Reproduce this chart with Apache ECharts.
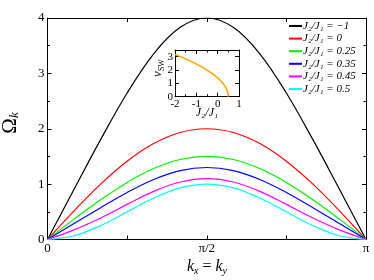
<!DOCTYPE html>
<html><head><meta charset="utf-8">
<script src="https://cdn.jsdelivr.net/npm/echarts@6/dist/echarts.min.js"></script>
<style>html,body{margin:0;padding:0;background:#fff}#c{width:374px;height:280px}</style>
</head><body><div id="c"></div>
<script>
// k in units of pi: 0, 1/12, ..., 1
var kValues = [0, 1/12, 2/12, 3/12, 4/12, 5/12, 6/12, 7/12, 8/12, 9/12, 10/12, 11/12, 1];
var seriesNames = ['J₂/J₁ = −1', 'J₂/J₁ = 0', 'J₂/J₁ = 0.25', 'J₂/J₁ = 0.35', 'J₂/J₁ = 0.45', 'J₂/J₁ = 0.5'];
var omegaM1  = [0, 0.906, 1.803, 2.646, 3.354, 3.831, 4.0, 3.831, 3.354, 2.646, 1.803, 0.906, 0];
var omega0   = [0, 0.518, 1.0, 1.414, 1.732, 1.932, 2.0, 1.932, 1.732, 1.414, 1.0, 0.518, 0];
var omega025 = [0, 0.368, 0.718, 1.031, 1.281, 1.444, 1.5, 1.444, 1.281, 1.031, 0.718, 0.368, 0];
var omega035 = [0, 0.287, 0.575, 0.850, 1.084, 1.244, 1.3, 1.244, 1.084, 0.850, 0.575, 0.287, 0];
var omega045 = [0, 0.174, 0.388, 0.634, 0.869, 1.038, 1.1, 1.038, 0.869, 0.634, 0.388, 0.174, 0];
var omega05  = [0, 0.067, 0.25, 0.5, 0.75, 0.933, 1.0, 0.933, 0.75, 0.5, 0.25, 0.067, 0];
var colors = ['#000000', '#ff0000', '#00ee00', '#0000ff', '#ff00ff', '#00ffff'];
// inset: v_sw vs J2/J1
var insetJ = [-2, -1.75, -1.5, -1.25, -1, -0.75, -0.5, -0.25, 0, 0.1, 0.2, 0.3, 0.4, 0.45, 0.48, 0.5];
var insetV = [3.16, 3.0, 2.83, 2.65, 2.45, 2.24, 2.0, 1.73, 1.41, 1.26, 1.10, 0.89, 0.63, 0.45, 0.28, 0];
var xTickLabels = {0: '0', 0.5: 'π/2', 1: 'π'};

var serif = 'Liberation Serif, DejaVu Serif, serif';
var allOmega = [omegaM1, omega0, omega025, omega035, omega045, omega05];
function pairs(xs, ys) { return xs.map(function (x, i) { return [x, ys[i]]; }); }

var series = allOmega.map(function (d, i) {
  return {
    name: seriesNames[i], type: 'line', xAxisIndex: 0, yAxisIndex: 0,
    data: pairs(kValues, d), smooth: 0.35, symbol: 'none',
    lineStyle: {color: colors[i], width: 1.2}, itemStyle: {color: colors[i]}, z: 3
  };
});
series.push({
  name: 'inset', type: 'line', xAxisIndex: 2, yAxisIndex: 2,
  data: pairs(insetJ, insetV), smooth: 0.3, symbol: 'none',
  lineStyle: {color: '#ffa500', width: 1.5}, z: 7
});

function tickAx(extra) {
  var base = {
    axisLine: {show: true, onZero: false, lineStyle: {color: '#000', width: 1}},
    axisTick: {show: true, inside: true, length: 4, lineStyle: {color: '#000'}},
    minorTick: {show: true, splitNumber: 2, length: 2.5, lineStyle: {color: '#000'}},
    splitLine: {show: false}
  };
  for (var k in extra) base[k] = extra[k];
  return base;
}

var option = {
  animation: false,
  backgroundColor: '#fff',
  grid: [
    {left: 47.5, top: 18, width: 318.5, height: 221.5, containLabel: false},
    {left: 175, top: 50, width: 64, height: 46.7, containLabel: false, backgroundColor: '#fff', show: true, borderWidth: 0, z: 5}
  ],
  xAxis: [
    tickAx({type: 'value', gridIndex: 0, min: 0, max: 1, interval: 0.25, position: 'bottom',
      axisLabel: {color: '#000', fontFamily: serif, fontSize: 13, margin: 3,
        formatter: function (v) { return xTickLabels[v] !== undefined ? xTickLabels[v] : ''; }},
      minorTick: {show: false}}),
    tickAx({type: 'value', gridIndex: 0, min: 0, max: 1, interval: 0.25, position: 'top',
      axisLabel: {show: false}, minorTick: {show: false}}),
    tickAx({type: 'value', gridIndex: 1, min: -2, max: 1, interval: 1, position: 'bottom',
      axisLabel: {color: '#000', fontFamily: serif, fontSize: 11, margin: 2}, z: 6}),
    tickAx({type: 'value', gridIndex: 1, min: -2, max: 1, interval: 1, position: 'top',
      axisLabel: {show: false}, z: 6})
  ],
  yAxis: [
    tickAx({type: 'value', gridIndex: 0, min: 0, max: 4, interval: 1, position: 'left',
      axisLabel: {color: '#000', fontFamily: serif, fontSize: 13, margin: 3}}),
    tickAx({type: 'value', gridIndex: 0, min: 0, max: 4, interval: 1, position: 'right',
      axisLabel: {show: false}}),
    tickAx({type: 'value', gridIndex: 1, min: 0, max: 3.5, interval: 1, position: 'left',
      axisLabel: {color: '#000', fontFamily: serif, fontSize: 11, margin: 2}, minorTick: {show: false}, z: 6}),
    tickAx({type: 'value', gridIndex: 1, min: 0, max: 3.5, interval: 1, position: 'right',
      axisLabel: {show: false}, minorTick: {show: false}, z: 6})
  ],
  legend: {
    data: seriesNames, orient: 'vertical', left: 289, top: 20,
    itemWidth: 13, itemHeight: 2, itemGap: 0.6, padding: 0,
    icon: 'rect',
    textStyle: {fontFamily: serif, fontSize: 11, fontStyle: 'italic', color: '#000', padding: [0, 0, 0, -4], lineHeight: 12},
    backgroundColor: '#fff'
  },
  graphic: [
    {type: 'text', x: 10, y: 123, rotation: Math.PI / 2,
      style: {text: '{a|Ω}{b|k}', rich: {a: {fontFamily: serif, fontSize: 21, fill: '#000'},
        b: {fontFamily: serif, fontSize: 13, fontStyle: 'italic', fill: '#000', padding: [10, 0, 0, 0]}},
        align: 'center', verticalAlign: 'middle'}},
    {type: 'text', x: 207, y: 267,
      style: {text: '{i|k}{s|x}{n| = }{i|k}{s|y}', rich: {
        i: {fontFamily: serif, fontSize: 16, fontStyle: 'italic', fill: '#000'},
        s: {fontFamily: serif, fontSize: 10, fontStyle: 'italic', fill: '#000', padding: [8, 0, 0, 0]},
        n: {fontFamily: serif, fontSize: 16, fill: '#000'}},
        align: 'center', verticalAlign: 'middle'}},
    {type: 'text', x: 158, y: 68, rotation: Math.PI / 2, z: 10,
      style: {text: '{i|v}{s|SW}', rich: {
        i: {fontFamily: serif, fontSize: 13, fontStyle: 'italic', fill: '#000'},
        s: {fontFamily: serif, fontSize: 8, fill: '#000', padding: [7, 0, 0, 0]}},
        align: 'center', verticalAlign: 'middle'}},
    {type: 'text', x: 207, y: 113, z: 10,
      style: {text: 'J₂/J₁', font: 'italic 12px ' + serif, fill: '#000', align: 'center', verticalAlign: 'middle'}}
  ],
  series: series
};
var chart = echarts.init(document.getElementById('c'), null, {renderer: 'canvas'});
chart.setOption(option);
</script></body></html>
